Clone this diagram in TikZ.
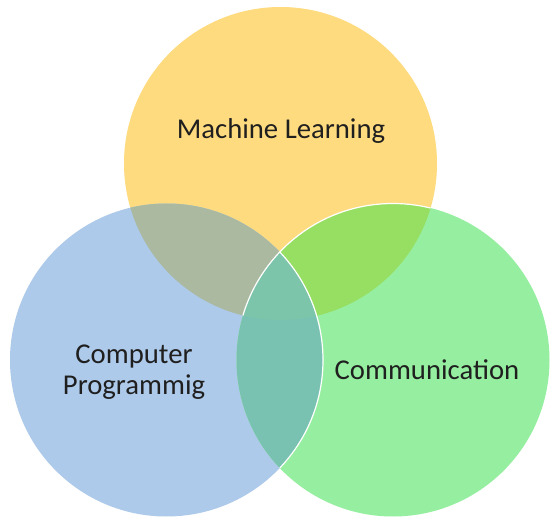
\documentclass[tikz,border=0pt]{standalone}
\usepackage{fontspec}
\setmainfont{Carlito}
\usetikzlibrary{positioning}
\definecolor{mlyellow}{HTML}{FEDB7F}
\definecolor{cpblue}{HTML}{AECAEA}
\definecolor{comgreen}{HTML}{96EFA0}
\definecolor{mlcp}{HTML}{AAB9A0}
\definecolor{mlcom}{HTML}{97DF62}
\definecolor{cpcom}{HTML}{79C2B2}
\definecolor{allthree}{HTML}{7CC5AA}
\newcommand{\vrad}{156.5pt}
\begin{document}
\begin{tikzpicture}[
  x=1pt,y=-1pt,
  lbl/.style={font=\fontsize{28.7}{31}\selectfont,text=black!88,align=center},
  edge/.style={draw=white,line width=1.2pt}
]
\useasboundingbox (0,0) rectangle (560,524);
\fill[white] (0,0) rectangle (560,524);
\coordinate (ml)  at (280.5,163.5);
\coordinate (cp)  at (166.5,360);
\coordinate (com) at (393,360);
% single sets
\fill[mlyellow] (ml) circle[radius=\vrad];
\fill[cpblue]   (cp) circle[radius=\vrad];
\fill[comgreen] (com) circle[radius=\vrad];
% pairwise overlaps
\begin{scope}
  \clip (ml) circle[radius=\vrad];
  \fill[mlcp] (cp) circle[radius=\vrad];
  \fill[mlcom] (com) circle[radius=\vrad];
\end{scope}
\begin{scope}
  \clip (cp) circle[radius=\vrad];
  \fill[cpcom] (com) circle[radius=\vrad];
  \clip (com) circle[radius=\vrad];
  \fill[allthree] (ml) circle[radius=\vrad];
\end{scope}
% white borders
\begin{scope}
  \clip (ml) circle[radius=\vrad];
  \draw[edge] (com) circle[radius=\vrad];
\end{scope}
\begin{scope}
  \clip (com) circle[radius=\vrad];
  \draw[edge] (cp) circle[radius=\vrad];
\end{scope}
% labels
\node[lbl] (mltext)  at (281,131) {Machine Learning};
\node[lbl] (cptext)  at (134,372) {Computer\\Programmig};
\node[lbl] (comtext) at (427,370) {Communication};
\end{tikzpicture}
\end{document}
